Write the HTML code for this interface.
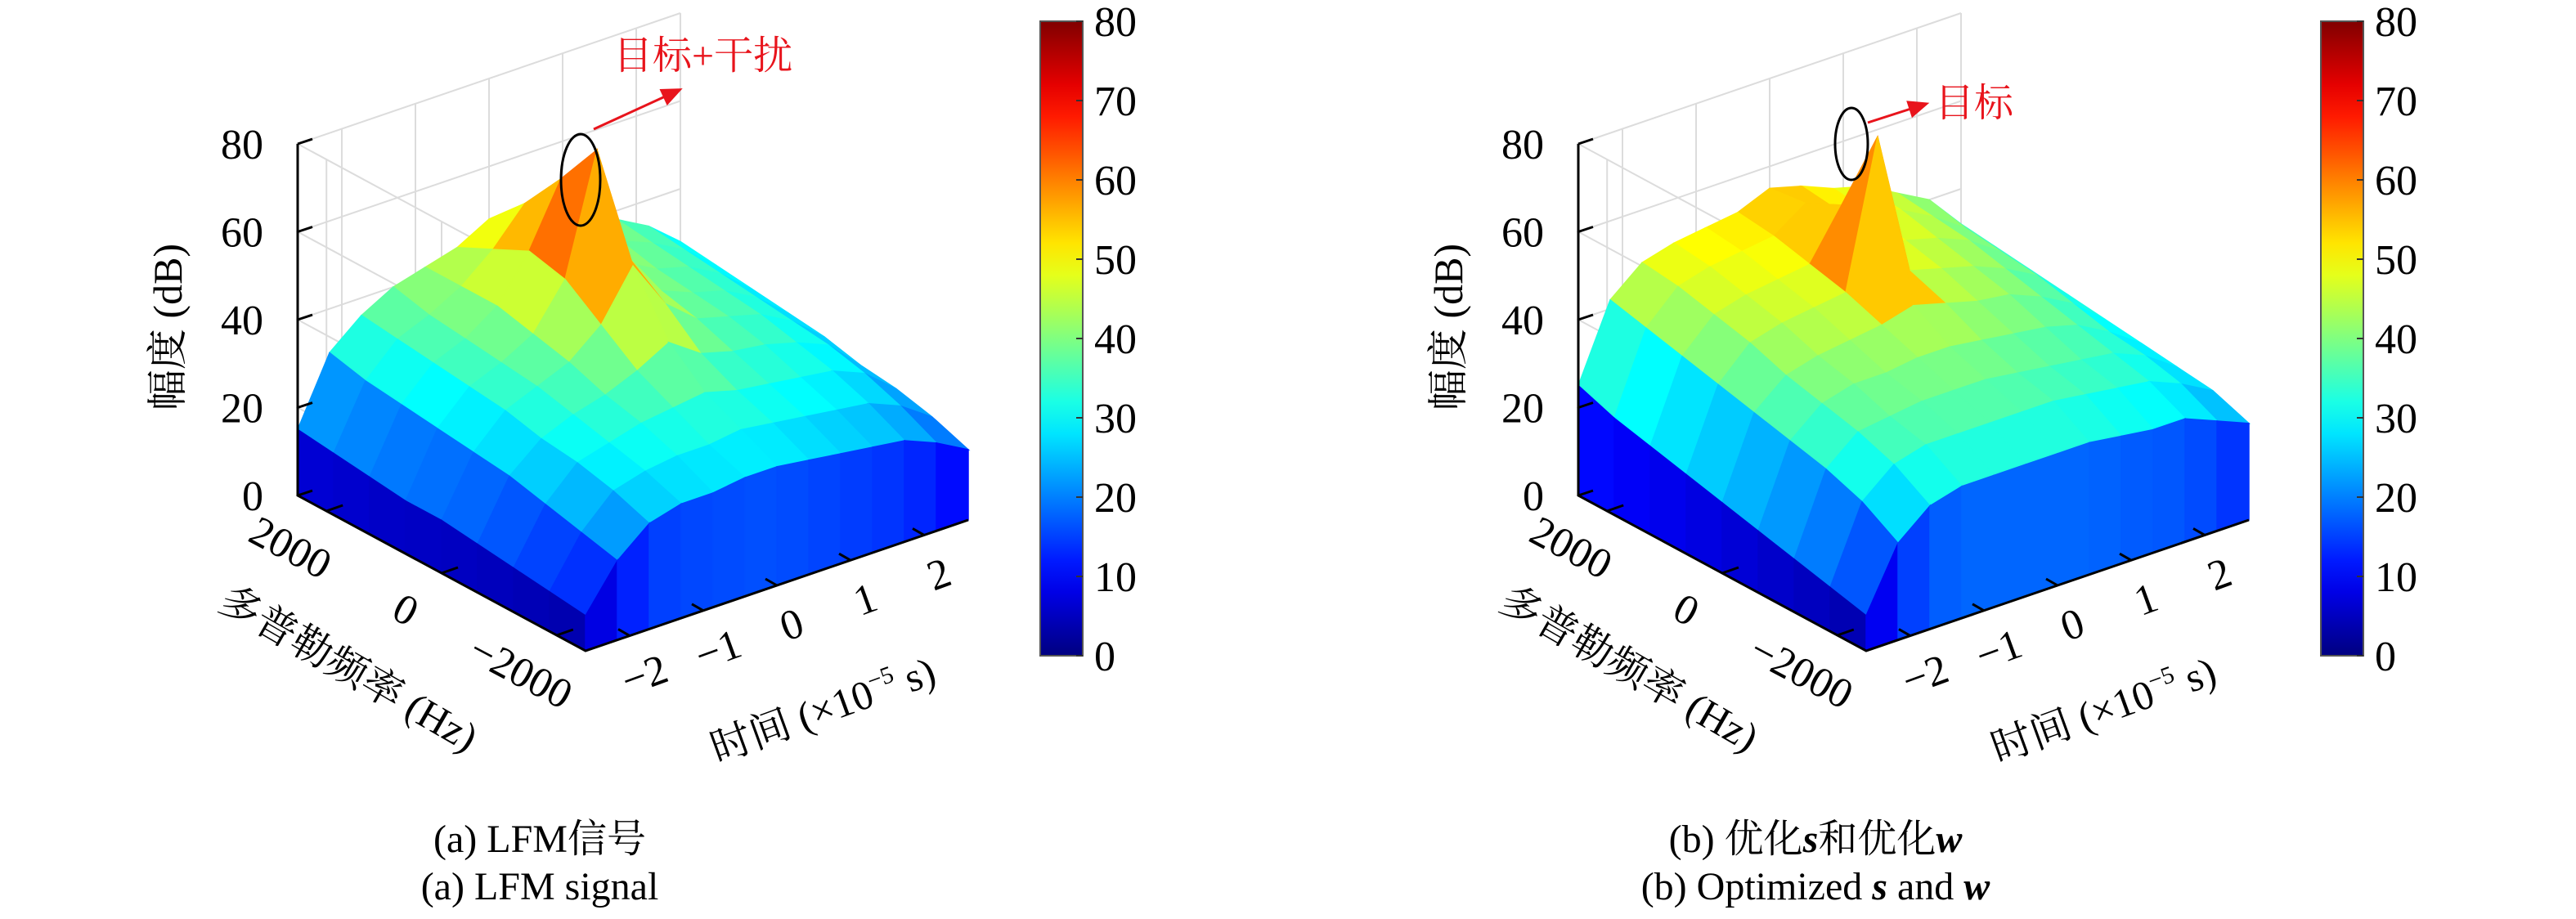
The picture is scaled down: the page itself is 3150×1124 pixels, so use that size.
<!DOCTYPE html>
<html>
<head>
<meta charset="utf-8">
<style>
html,body{margin:0;padding:0;background:#fff;}
svg{display:block;}
</style>
</head>
<body>
<svg id="fig" width="3150" height="1124" viewBox="0 0 3150 1124" xmlns="http://www.w3.org/2000/svg" font-family="'Liberation Serif','Noto Serif CJK SC','Noto Sans CJK SC',serif">
<defs>
<linearGradient id="jetGrad" x1="0" y1="1" x2="0" y2="0"></linearGradient>
</defs>
</svg>
<script>
// ---- data ----
const zTicks = [0, 20, 40, 60, 80];
const cbTicks = [0, 10, 20, 30, 40, 50, 60, 70, 80];
const timeTicks = [-2, -1, 0, 1, 2];
const timeTickLabels = ["\u22122", "\u22121", "0", "1", "2"];
const dopTicks = [2000, 0, -2000];
const dopTickLabels = ["2000", "0", "\u22122000"];
// surface heights (dB): rows from Doppler +2500 (back) to -2500 (front); cols from time -2.6 to 2.6
const surfA = [
 [15,30,36,40,42,44,48,45,42,40,38,34,28],
 [14,28,35,38,42,48,56,48,42,40,37,33,27],
 [13,27,34,37,42,52,66,50,42,38,36,32,26],
 [12,26,33,36,40,50,77,50,40,37,35,31,25],
 [12,25,32,35,38,44,55,44,38,36,34,30,24],
 [11,24,30,33,35,38,42,37,35,34,32,29,22],
 [10,22,29,31,33,34,35,33,32,31,30,27,21],
 [9,20,27,29,30,30,31,30,29,28,27,24,19],
 [8,18,24,26,26,27,27,26,25,24,23,20,16]
];
const surfB = [
 [25,42,48,50,51,52,55,53,50,48,44,40,32],
 [22,40,47,49,50,51,56,52,49,47,43,38,31],
 [20,38,45,47,48,49,60,50,47,45,42,37,30],
 [18,36,43,45,46,47,80,47,45,43,40,36,29],
 [16,34,40,42,43,44,46,44,42,41,38,34,28],
 [14,32,38,40,40,41,41,40,39,38,36,32,27],
 [12,30,36,37,38,38,38,37,36,35,34,31,26],
 [10,27,33,35,35,35,35,35,34,33,32,29,25],
 [8,22,28,30,30,30,30,30,29,28,28,25,22]
];
const tMin = -2.6, tMax = 2.6, dMin = -2500, dMax = 2500, zMax = 80;

const NS = "http://www.w3.org/2000/svg";
const svg = document.getElementById("fig");
function jet(x){
  x = Math.max(0, Math.min(1, x));
  const c = v => Math.round(255 * Math.max(0, Math.min(1, v)));
  return "rgb(" + c(1.5 - Math.abs(4*x - 3)) + "," + c(1.5 - Math.abs(4*x - 2)) + "," + c(1.5 - Math.abs(4*x - 1)) + ")";
}
function mk(tag, attrs, parent){
  const e = document.createElementNS(NS, tag);
  for (const k in attrs) e.setAttribute(k, attrs[k]);
  (parent || svg).appendChild(e);
  return e;
}
const grad = document.getElementById("jetGrad");
for (let i = 0; i <= 20; i++){
  mk("stop", {offset: (i/20), "stop-color": jet(i/20)}, grad);
}

function drawPanel(ox, surf, pid, cap1, cap2, annot){
  const g = mk("g", {});
  
  
  const L = [364 + ox, 606], F = [716 + ox, 796], R = [1184 + ox, 636];
  const zs = 430 / zMax;
  const P = (u, v, z) => [L[0] + v*(F[0]-L[0]) + u*(R[0]-F[0]), L[1] + v*(F[1]-L[1]) + u*(R[1]-F[1]) - z*zs];
  const uT = t => (t - tMin) / (tMax - tMin);
  const vD = d => (dMax - d) / (dMax - dMin);
  const pts = a => a.map(p => p[0].toFixed(1) + "," + p[1].toFixed(1)).join(" ");
  const grid = mk("g", {stroke: "#dcdcdc", "stroke-width": 2, fill: "none"}, g);
  
  
  zTicks.forEach(z => {
    mk("polyline", {points: pts([P(0,1,z), P(0,0,z), P(1,0,z)])}, grid);
  });
  timeTicks.forEach(t => {
    const u = uT(t);
    mk("polyline", {points: pts([P(u,1,0), P(u,0,0), P(u,0,zMax)])}, grid);
  });
  dopTicks.forEach(d => {
    const v = vD(d);
    mk("polyline", {points: pts([P(1,v,0), P(0,v,0), P(0,v,zMax)])}, grid);
  });
  mk("polyline", {points: pts([P(1,0,0), P(1,0,zMax)])}, grid);
  mk("polyline", {points: pts([P(1,0,0), P(1,1,0)])}, grid);
  const sg = mk("g", {}, g);
  
  
  const nr = surf.length, nc = surf[0].length;
  const quads = [];
  for (let i = 0; i < nr - 1; i++) for (let j = 0; j < nc - 1; j++){
    const u0 = j/(nc-1), u1 = (j+1)/(nc-1), v0 = i/(nr-1), v1 = (i+1)/(nr-1);
    const z00 = surf[i][j], z01 = surf[i][j+1], z10 = surf[i+1][j], z11 = surf[i+1][j+1];
    quads.push({depth: (v0+v1)/2 - (u0+u1)/2, p: [P(u0,v0,z00), P(u1,v0,z01), P(u1,v1,z11), P(u0,v1,z10)], z: (z00+z01+z10+z11)/4});
  }
  quads.sort((a, b) => a.depth - b.depth);
  quads.forEach(q => {
    const c = jet(q.z / zMax);
    const e = mk("polygon", {points: pts(q.p), fill: c, stroke: c, "stroke-width": 1.5}, sg);
    
    
  });
  for (let i = 0; i < nr - 1; i++){
    const v0 = i/(nr-1), v1 = (i+1)/(nr-1);
    const zt = (surf[i][0] + surf[i+1][0]) / 2;
    const c = jet(zt * 0.45 / zMax);
    const e = mk("polygon", {points: pts([P(0,v0,surf[i][0]), P(0,v1,surf[i+1][0]), P(0,v1,0), P(0,v0,0)]), fill: c, stroke: c, "stroke-width": 1.5}, sg);
    
    
  }
  for (let j = 0; j < nc - 1; j++){
    const u0 = j/(nc-1), u1 = (j+1)/(nc-1);
    const zt = (surf[nr-1][j] + surf[nr-1][j+1]) / 2;
    const c = jet(zt * 0.6 / zMax);
    const e = mk("polygon", {points: pts([P(u0,1,surf[nr-1][j]), P(u1,1,surf[nr-1][j+1]), P(u1,1,0), P(u0,1,0)]), fill: c, stroke: c, "stroke-width": 1.5}, sg);
    
    
  }
  const ax = mk("g", {stroke: "#000", "stroke-width": 3, fill: "none"}, g);
  
  
  mk("polyline", {points: pts([P(0,0,zMax), P(0,0,0), P(0,1,0), P(1,1,0)])}, ax);
  zTicks.forEach(z => {
    const p = P(0,0,z);
    mk("line", {x1: p[0], y1: p[1], x2: p[0]+18, y2: p[1]-6}, ax);
    const t = mk("text", {x: p[0]-42, y: p[1]+18, "font-size": 52, "text-anchor": "end", fill: "#000", stroke: "none"}, g);
    t.textContent = String(z);
    
    
  });
  timeTicks.forEach((tv, k) => {
    const p = P(uT(tv), 1, 0);
    mk("line", {x1: p[0], y1: p[1], x2: p[0]-14, y2: p[1]-8}, ax);
    const x = p[0]+24, y = p[1]+64;
    const t = mk("text", {x: x, y: y, "font-size": 52, "text-anchor": "middle", fill: "#000", stroke: "none", transform: "rotate(-20 " + x + " " + y + ")"}, g);
    t.textContent = timeTickLabels[k];
    
    
  });
  dopTicks.forEach((dv, k) => {
    const p = P(0, vD(dv), 0);
    mk("line", {x1: p[0], y1: p[1], x2: p[0]+20, y2: p[1]-7}, ax);
    const x = p[0] - 52, y = p[1] + 60;
    const t = mk("text", {x: x, y: y, "font-size": 52, "text-anchor": "middle", fill: "#000", stroke: "none", transform: "rotate(28 " + x + " " + y + ")"}, g);
    t.textContent = dopTickLabels[k];
    
    
  });
  const zt = mk("text", {x: 0, y: 0, "font-size": 50, "text-anchor": "middle", transform: "translate(" + (222+ox) + " 400) rotate(-90)"}, g);
  zt.textContent = "幅度 (dB)";
  
  
  const dt = mk("text", {x: 0, y: 0, "font-size": 50, "text-anchor": "middle", transform: "translate(" + (418+ox) + " 832) rotate(30)"}, g);
  dt.textContent = "多普勒频率 (Hz)";
  
  
  const tt = mk("text", {x: 0, y: 0, "font-size": 50, "text-anchor": "middle", transform: "translate(" + (1012+ox) + " 884) rotate(-20)"}, g);
  tt.innerHTML = '时间 (×10<tspan dy="-20" font-size="30">−5</tspan><tspan dy="20"> s)</tspan>';
  
  
  const cbx = 1272 + ox, cby = 26, cbw = 52, cbh = 776;
  const cb = mk("rect", {x: cbx, y: cby, width: cbw, height: cbh, fill: "url(#jetGrad)", stroke: "#555", "stroke-width": 2}, g);
  
  
  cbTicks.forEach(v => {
    const y = cby + cbh - v / zMax * cbh;
    mk("line", {x1: cbx+cbw-8, y1: y, x2: cbx+cbw, y2: y, stroke: "#333", "stroke-width": 2}, g);
    const t = mk("text", {x: cbx + cbw + 14, y: y + 18, "font-size": 52, fill: "#000"}, g);
    t.textContent = String(v);
    
    
  });
  const an = mk("g", {}, g);
  
  
  mk("ellipse", {cx: annot.ex + ox, cy: annot.ey, rx: annot.rx, ry: annot.ry, fill: "none", stroke: "#000", "stroke-width": 3}, an);
  mk("line", {x1: annot.ax1 + ox, y1: annot.ay1, x2: annot.ax2 + ox, y2: annot.ay2, stroke: "#e8141c", "stroke-width": 3}, an);
  const dx = annot.ax2 - annot.ax1, dy = annot.ay2 - annot.ay1, len = Math.hypot(dx, dy);
  const ux = dx/len, uy = dy/len, hx = annot.ax2 + ox + ux*14, hy = annot.ay2 + uy*14;
  mk("polygon", {points: [hx, hy, hx - ux*26 - uy*11, hy - uy*26 + ux*11, hx - ux*26 + uy*11, hy - uy*26 - ux*11].join(","), fill: "#e8141c"}, an);
  const at = mk("text", {x: annot.tx + ox, y: annot.ty, "font-size": 48, fill: "#e8141c"}, an);
  at.textContent = annot.text;
  
  
  const c1 = mk("text", {x: annot.cx + ox, y: 1042, "font-size": 48, "text-anchor": "middle"}, g);
  c1.innerHTML = cap1;
  
  
  const c2 = mk("text", {x: annot.cx + ox, y: 1100, "font-size": 48, "text-anchor": "middle"}, g);
  c2.innerHTML = cap2;
  
  
}

drawPanel(0, surfA, "a", "(a) LFM信号", "(a) LFM signal",
  {ex: 710, ey: 220, rx: 24, ry: 56, ax1: 726, ay1: 158, ax2: 822, ay2: 114, tx: 750, ty: 84, text: "目标+干扰", cx: 660});
drawPanel(1566, surfB, "b", '(b) 优化<tspan font-style="italic" font-weight="bold">s</tspan>和优化<tspan font-style="italic" font-weight="bold">w</tspan>',
  '(b) Optimized <tspan font-style="italic" font-weight="bold">s</tspan> and <tspan font-style="italic" font-weight="bold">w</tspan>',
  {ex: 698, ey: 176, rx: 20, ry: 44, ax1: 718, ay1: 150, ax2: 780, ay2: 130, tx: 800, ty: 142, text: "目标", cx: 654});
</script>
</body>
</html>
